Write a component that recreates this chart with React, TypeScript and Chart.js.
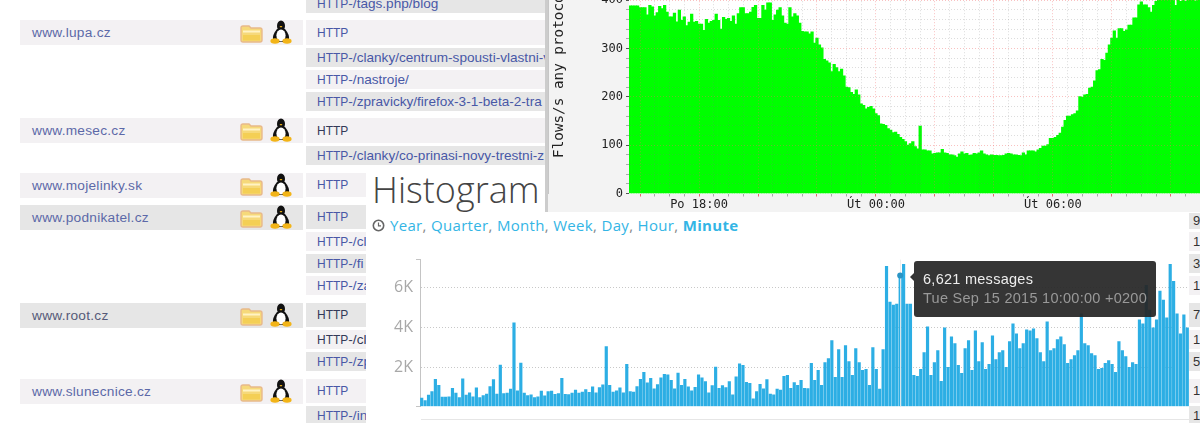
import React, { useEffect, useRef } from "react";
import { Chart, registerables } from "chart.js";

Chart.register(...registerables);

const flowValues = [388,388,388,388,384,384,384,369,389,386,367,374,387,382,389,375,365,365,373,355,379,358,365,347,354,371,354,356,350,350,337,360,352,356,358,371,358,340,364,360,362,356,367,350,372,384,384,372,372,375,385,389,362,362,389,379,394,394,358,369,379,384,367,352,350,384,365,372,367,352,335,334,334,330,334,311,321,307,301,277,274,270,252,267,260,252,257,243,220,219,209,205,214,204,185,182,175,178,
180,175,165,161,144,143,141,134,131,126,127,122,116,112,107,100,103,107,97,92,139,90,90,88,88,82,83,84,84,91,84,83,80,80,78,75,82,86,82,83,79,80,83,82,84,88,82,80,78,80,79,79,78,78,79,82,83,82,80,80,79,78,84,80,88,88,88,86,90,93,98,98,101,114,114,116,120,125,137,151,160,160,163,165,171,200,199,204,205,218,220,233,254,256,277,275,290,307,321,336,321,341,341,335,338,348,348,363,363,390,396,390,390,384,375,389,397,400,405,400,402,403,400,402,389,402,397,402,397,399,402,402,398,402,400,397];
const FLOW_START_MINUTES = 15 * 60 + 40;
const flowLabelled = [18 * 60, 24 * 60, 30 * 60];
const flowLabelNames = ["Po 18:00", "Út 00:00", "Út 06:00"];
const flowAxisTitle = "Flows/s any protocol";

const messageCounts = [450,320,600,780,1400,1100,500,500,520,950,700,480,1420,600,720,520,970,480,580,660,1030,1380,660,2120,680,700,900,4250,820,2220,700,580,620,480,520,800,570,780,800,640,680,1450,640,630,700,850,700,760,880,740,1020,720,980,1120,3050,1100,750,820,970,720,2150,780,760,1030,1400,1750,1220,1450,920,1130,1480,1650,1620,1350,920,1720,1100,1400,1020,820,1000,1620,1480,1280,720,1080,2020,950,1080,980,1280,620,1520,2180,2100,1250,1200,420,780,1150,920,1380,650,620,900,850,1550,1600,950,1230,1100,1350,950,930,2200,1350,1850,1100,2250,2450,3350,1500,2900,1500,3100,2300,1600,2950,2250,1850,1900,1100,3000,1900,900,2900,7100,5300,5150,5200,6621,7200,5200,5200,1600,1550,1900,2750,4050,1600,2250,2850,1300,4000,2000,3550,3200,2100,1700,2950,3350,1850,3850,2300,3250,1900,2150,3600,2400,2750,2850,2000,3300,4200,3700,2950,3200,3900,3850,3950,3450,2750,2300,4300,2850,2950,3400,3550,3150,2200,2400,2600,2850,4700,3200,3100,2700,2600,1900,1950,2200,2350,2150,1750,3300,2850,2550,2000,2250,2150,4400,4200,6150,4900,4000,4400,5850,5400,4500,7200,6350,4700,3700,4650,4000];
const messageAxisTicks = [0, 2000, 4000, 6000, 7426];
const hoveredCount = 6621;
const tooltipTitle = "6,621 messages";
const tooltipDate = "Tue Sep 15 2015 10:00:00 +0200";
const rangeLinks = ["Year", "Quarter", "Month", "Week", "Day", "Hour"];
const activeRange = "Minute";

const siteRows = [
  { name: "www.lupa.cz", y: 20, bg: "#f3f1f3", color: "#5c69a8" },
  { name: "www.mesec.cz", y: 118, bg: "#f3f1f3", color: "#5c69a8" },
  { name: "www.mojelinky.sk", y: 173, bg: "#f3f1f3", color: "#5c69a8" },
  { name: "www.podnikatel.cz", y: 205, bg: "#e6e6e6", color: "#5c69a8" },
  { name: "www.root.cz", y: 303, bg: "#e6e6e6", color: "#555a78" },
  { name: "www.slunecnice.cz", y: 379, bg: "#f3f1f3", color: "#5c69a8" },
];
const LINK = "#4858a6";
const DARK = "#333a58";
const pathRows = [
  { t: "HTTP-/tags.php/blog", y: -6, h: 19, bg: "#e6e6e6", c: LINK },
  { t: "HTTP", y: 20, h: 25, bg: "#f3f1f3", c: LINK },
  { t: "HTTP-/clanky/centrum-spousti-vlastni-v", y: 48, h: 19, bg: "#e6e6e6", c: LINK },
  { t: "HTTP-/nastroje/", y: 70, h: 19, bg: "#f3f1f3", c: LINK },
  { t: "HTTP-/zpravicky/firefox-3-1-beta-2-tra", y: 92, h: 19, bg: "#e6e6e6", c: LINK },
  { t: "HTTP", y: 118, h: 25, bg: "#f3f1f3", c: DARK },
  { t: "HTTP-/clanky/co-prinasi-novy-trestni-z", y: 146, h: 19, bg: "#e6e6e6", c: LINK },
  { t: "HTTP", y: 173, h: 24, bg: "#f3f1f3", c: LINK },
  { t: "HTTP", y: 205, h: 24, bg: "#e6e6e6", c: LINK },
  { t: "HTTP-/cl", y: 232, h: 19, bg: "#f3f1f3", c: LINK },
  { t: "HTTP-/fi", y: 254, h: 19, bg: "#e6e6e6", c: LINK },
  { t: "HTTP-/za", y: 276, h: 19, bg: "#f3f1f3", c: LINK },
  { t: "HTTP", y: 303, h: 24, bg: "#e6e6e6", c: DARK },
  { t: "HTTP-/cl", y: 330, h: 19, bg: "#f3f1f3", c: DARK },
  { t: "HTTP-/zp", y: 352, h: 19, bg: "#e6e6e6", c: LINK },
  { t: "HTTP", y: 379, h: 24, bg: "#f3f1f3", c: LINK },
  { t: "HTTP-/in", y: 406, h: 19, bg: "#e6e6e6", c: LINK },
];
const edgeCells = [
  { t: "9", y: 213, h: 16, bg: "#e6e6e6" },
  { t: "1", y: 232, h: 19, bg: "#f3f1f3" },
  { t: "3", y: 254, h: 19, bg: "#e6e6e6" },
  { t: "1", y: 276, h: 19, bg: "#f3f1f3" },
  { t: "7", y: 303, h: 24, bg: "#e6e6e6" },
  { t: "1", y: 330, h: 19, bg: "#f3f1f3" },
  { t: "5", y: 352, h: 19, bg: "#e6e6e6" },
  { t: "1", y: 379, h: 24, bg: "#f3f1f3" },
  { t: "1", y: 406, h: 19, bg: "#e6e6e6" },
];

function Folder({ y }: { y: number }) {
  return (
    <svg style={{ position: "absolute", left: 240, top: y + 4, zIndex: 1 }} width="23" height="19" viewBox="0 0 23 19">
      <path d="M1 4 Q1 2 3 2 H9 L11 4 H20 Q22 4 22 6 V16 Q22 18 20 18 H3 Q1 18 1 16 Z" fill="#f6d97a" stroke="#e8b98a" strokeWidth="1.4" />
      <rect x="3" y="6.5" width="17" height="2" fill="#fff3c4" />
      <rect x="3" y="11" width="17" height="5.5" fill="#f4cf55" />
    </svg>
  );
}

function Tux({ y }: { y: number }) {
  return (
    <svg style={{ position: "absolute", left: 270, top: y, zIndex: 1 }} width="22" height="25" viewBox="0 0 22 25">
      <ellipse cx="11" cy="6" rx="4" ry="5.5" fill="#111" />
      <path d="M7 9 Q2 15 3 20 L8 22 H14 L19 20 Q20 15 15 9 Z" fill="#111" />
      <ellipse cx="11" cy="15.5" rx="4.6" ry="6" fill="#fff" />
      <path d="M9.5 6 H12.5 L11 7.8 Z" fill="#f2b418" />
      <ellipse cx="5" cy="21" rx="4.6" ry="2.8" fill="#f2b418" />
      <ellipse cx="17" cy="21" rx="4.6" ry="2.8" fill="#f2b418" />
    </svg>
  );
}

const whitePlot = {
  id: "whitePlot",
  beforeDraw(chart: any) {
    const a = chart.chartArea;
    chart.ctx.save();
    chart.ctx.fillStyle = "#ffffff";
    chart.ctx.fillRect(a.left, a.top, a.right - a.left, a.bottom - a.top);
    chart.ctx.restore();
  },
};

const hoverLine = {
  id: "hoverLine",
  afterDatasetsDraw(chart: any) {
    const i = messageCounts.indexOf(hoveredCount);
    const el = chart.getDatasetMeta(0).data[i];
    if (!el) return;
    const c = chart.ctx;
    c.save();
    c.strokeStyle = "rgba(235,235,235,0.9)";
    c.lineWidth = 1;
    c.beginPath();
    c.moveTo(Math.round(el.x) + 0.5, chart.chartArea.top);
    c.lineTo(Math.round(el.x) + 0.5, chart.chartArea.bottom);
    c.stroke();
    c.fillStyle = "#2a94c4";
    c.beginPath();
    c.arc(el.x, el.y, 3, 0, Math.PI * 2);
    c.fill();
    c.restore();
  },
};

function App() {
  const flowRef = useRef<HTMLCanvasElement>(null);
  const msgRef = useRef<HTMLCanvasElement>(null);

  useEffect(() => {
    document.body.style.margin = "0";
    const labels = flowValues.map((_, i) => FLOW_START_MINUTES + i * 5);
    const mono = "'DejaVu Sans Mono', monospace";
    const PINK = "rgba(240,100,100,0.4)";
    const GRAY = "rgba(120,120,120,0.25)";
    const flow = new Chart(flowRef.current!, {
      type: "bar",
      plugins: [whitePlot],
      data: {
        labels,
        datasets: [{ data: flowValues, backgroundColor: "#00ff00", barPercentage: 1, categoryPercentage: 1, borderWidth: 0, inflateAmount: 0.4 } as any],
      },
      options: {
        animation: false,
        responsive: false,
        layout: { padding: 0 },
        plugins: { legend: { display: false }, tooltip: { enabled: false } },
        scales: {
          x: {
            offset: true,
            afterFit: (s: any) => { s.height = 18.5; },
            border: { color: "#4f6a4f", width: 1, dash: [1, 2] },
            grid: {
              offset: false,
              z: 1,
              lineWidth: 1,
              color: (c: any) => {
                const m = labels[c.index];
                if (m === undefined) return "transparent";
                if (m % 120 === 0) return PINK;
                if (m % 30 === 0) return GRAY;
                return "transparent";
              },
              tickColor: (c: any) => {
                const m = labels[c.index];
                if (m === undefined) return "transparent";
                if (m % 120 === 0) return "rgba(230,90,90,0.9)";
                if (m % 30 === 0) return "rgba(120,120,120,0.6)";
                return "transparent";
              },
              tickLength: 3,
            },
            ticks: {
              autoSkip: false,
              maxRotation: 0,
              minRotation: 0,
              padding: 1,
              color: "#222",
              font: { family: mono, size: 12 },
              callback: (_: any, i: number) => {
                const k = flowLabelled.indexOf(labels[i]);
                return k >= 0 ? flowLabelNames[k] : "";
              },
            },
          },
          y: {
            min: 0,
            max: 503,
            afterFit: (s: any) => { s.width = 81; },
            border: { color: "#999", dash: [1, 2] },
            grid: {
              z: 1,
              color: (c: any) => {
                const v = c.tick.value;
                if (v === 0 || v % 20 !== 0) return "transparent";
                return v % 100 === 0 ? PINK : GRAY;
              },
              tickColor: (c: any) => (c.tick.value % 20 !== 0 ? "transparent" : c.tick.value % 100 === 0 ? "#555" : "#aaa"),
              tickLength: 3,
            },
            title: { display: true, text: flowAxisTitle, color: "#222", font: { family: mono, size: 14.3 }, padding: { top: 3, bottom: 0 } },
            ticks: {
              stepSize: 20,
              padding: 3,
              autoSkip: false,
              color: "#222",
              font: { family: mono, size: 12 },
              callback: (v: any) => (v % 100 === 0 ? String(v) : ""),
            },
          },
        },
      } as any,
    });

    const msg = new Chart(msgRef.current!, {
      type: "bar",
      plugins: [hoverLine],
      data: {
        labels: messageCounts.map((_, i) => i),
        datasets: [{ data: messageCounts, backgroundColor: "#2caee4", barPercentage: 0.93, categoryPercentage: 1, borderWidth: 0 }],
      },
      options: {
        animation: false,
        responsive: false,
        layout: { padding: { top: 9.3, bottom: 16.3 } },
        plugins: { legend: { display: false }, tooltip: { enabled: false } },
        scales: {
          x: { display: false },
          y: {
            min: 0,
            max: 7426,
            afterBuildTicks: (s: any) => { s.ticks = messageAxisTicks.map((value) => ({ value })); },
            afterFit: (s: any) => { s.width = 54; },
            border: { color: "#c4c4c4", width: 1, dash: [1, 2] },
            grid: {
              color: (c: any) => (c.tick.value === 0 || c.tick.value % 2000 !== 0 ? "transparent" : "#c8c8c8"),
              tickColor: (c: any) => (c.tick.value === 0 || c.tick.value % 2000 !== 0 ? "#c4c4c4" : "transparent"),
              tickLength: 4,
            },
            ticks: {
              autoSkip: false,
              padding: 3,
              color: "#a8a8a8",
              font: { family: "'Open Sans', sans-serif", size: 16 },
              callback: (v: any) => (v !== 0 && v % 2000 === 0 ? `${v / 1000}K` : ""),
            },
          },
        },
      } as any,
    });
    return () => {
      flow.destroy();
      msg.destroy();
    };
  }, []);

  const abs = (o: any) => ({ position: "absolute", ...o });
  const sans = "'Liberation Sans', Arial, sans-serif";
  const openSans = "'Open Sans', sans-serif";

  return (
    <div style={{ position: "fixed", left: 0, top: 0, width: 1200, height: 423, overflow: "hidden", background: "#fff", fontFamily: sans }}>
      {siteRows.map((r) => (
        <React.Fragment key={r.name}>
          <div style={abs({ left: 20, top: r.y, width: 283, height: 24.5, background: r.bg })}>
            <span style={abs({ left: 12, top: 0, lineHeight: "25px", fontSize: 13.7, letterSpacing: 0.25, color: r.color })}>{r.name}</span>
          </div>
          <Folder y={r.y} />
          <Tux y={r.y} />
        </React.Fragment>
      ))}
      {pathRows.map((r, i) => (
        <div key={i} style={abs({ left: 306, top: r.y, width: 245, height: r.h, background: r.bg, overflow: "hidden" })}>
          <span style={abs({ left: 11, top: 0, lineHeight: `${r.h}px`, fontSize: 13.6, color: r.c, whiteSpace: "nowrap" })}>
            <span style={{ fontSize: 12 }}>HTTP</span>{r.t.slice(4)}
          </span>
        </div>
      ))}
      {edgeCells.map((r, i) => (
        <div key={i} style={abs({ left: 1189, top: r.y, width: 11, height: r.h, background: r.bg, overflow: "hidden" })}>
          <span style={abs({ left: 4, top: 0, lineHeight: `${r.h}px`, fontSize: 13, color: "#333" })}>{r.t}</span>
        </div>
      ))}

      {/* histogram panel */}
      <div style={abs({ left: 366, top: 168, width: 823, height: 255, background: "#fff" })}>
        <div style={abs({ left: 6, top: -1, fontFamily: openSans, fontWeight: 300, fontSize: 36, lineHeight: "46px", color: "#444" })}>Histogram</div>
        <svg style={abs({ left: 6, top: 51 })} width="13" height="13" viewBox="0 0 13 13">
          <circle cx="6.5" cy="6.5" r="5.2" fill="none" stroke="#666" strokeWidth="1.6" />
          <path d="M6.5 3.5 V6.8 H9" fill="none" stroke="#666" strokeWidth="1.2" />
        </svg>
        <div style={abs({ left: 24, top: 47, fontFamily: openSans, fontSize: 15, lineHeight: "20px", color: "#33b5e5", whiteSpace: "nowrap", letterSpacing: 0.32 })}>
          {rangeLinks.map((l) => (
            <span key={l}>{l}<span style={{ color: "#888" }}>, </span></span>
          ))}
          <b>{activeRange}</b>
        </div>
        <canvas ref={msgRef} width={823} height={176} style={abs({ left: 0, top: 79, width: 823, height: 176 })} />
        <div style={abs({ left: 55, top: 250.5, width: 768, height: 1.5, background: "#e6e6e6" })} />
      </div>

      {/* tooltip */}
      <div style={abs({ left: 914, top: 261, width: 242, height: 56, background: "rgba(38,38,38,0.93)", borderRadius: 3 })}>
        <div style={abs({ left: -4, top: 12, width: 0, height: 0, borderTop: "4px solid transparent", borderBottom: "4px solid transparent", borderRight: "4px solid #333" })} />
        <div style={abs({ left: 9, top: 9, fontSize: 14.5, lineHeight: "18px", color: "#eee", whiteSpace: "nowrap", letterSpacing: 0.27 })}>{tooltipTitle}</div>
        <div style={abs({ left: 9, top: 28, fontSize: 14.5, lineHeight: "18px", color: "#999", whiteSpace: "nowrap", letterSpacing: 0.27 })}>{tooltipDate}</div>
      </div>

      {/* flows chart */}
      <div style={abs({ left: 545, top: 0, width: 655, height: 212, background: "#f3f3f3", overflow: "hidden", borderLeft: "3px solid #ccc", boxSizing: "border-box" })}>
        <canvas ref={flowRef} width={656} height={272} style={abs({ left: 0, top: -60, width: 656, height: 272 })} />
      </div>
    </div>
  );
}

export default App;
